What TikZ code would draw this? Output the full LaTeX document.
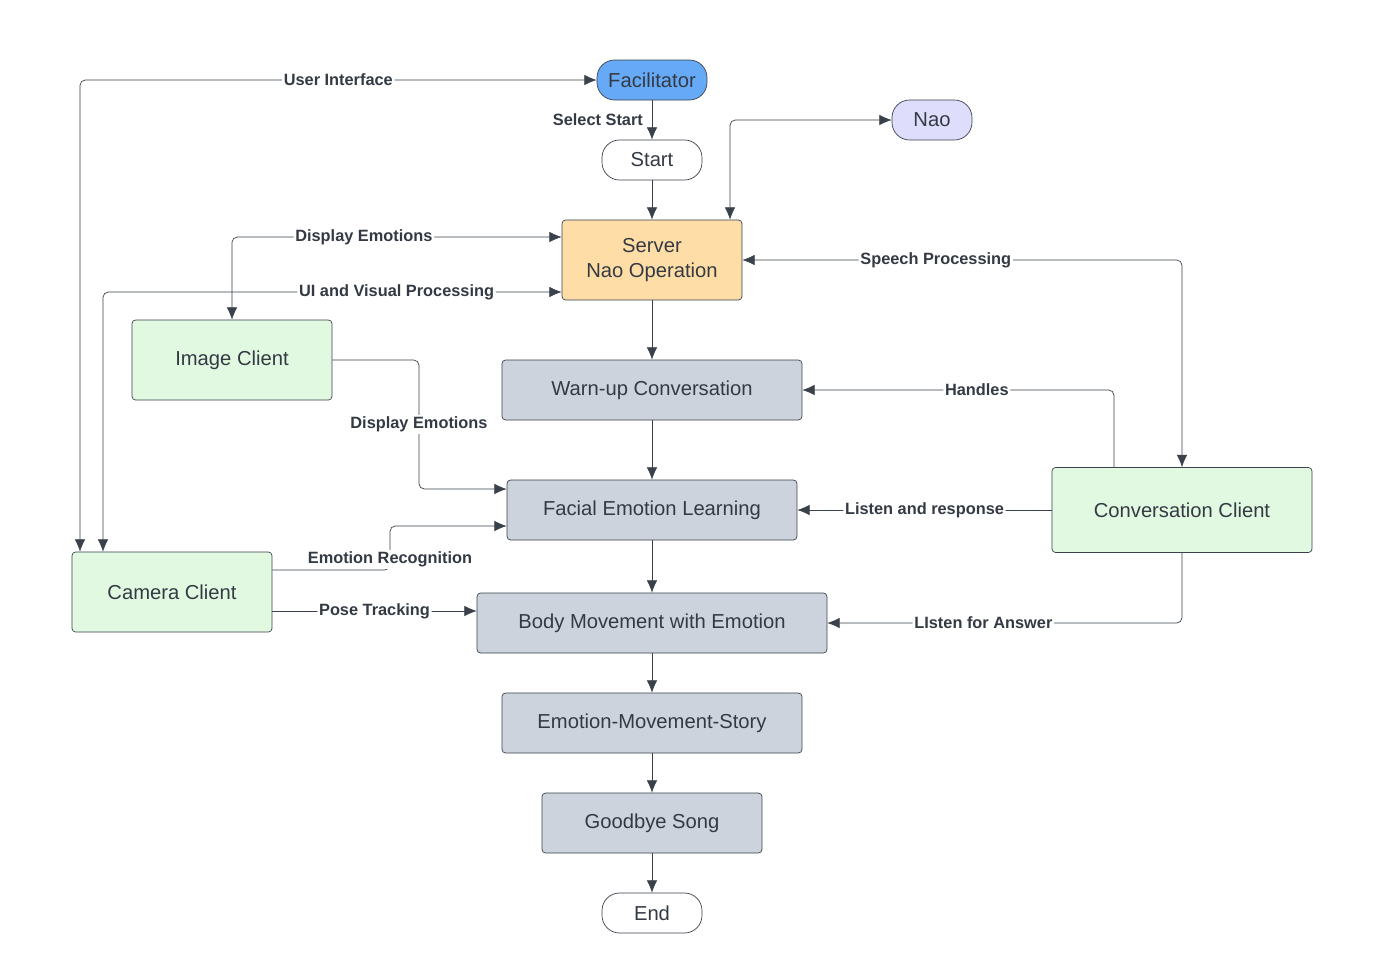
\documentclass[tikz,border=0pt]{standalone}
\usepackage{fontspec}
\setmainfont{Liberation Sans}
\usetikzlibrary{arrows.meta}
\definecolor{lineclr}{HTML}{3A414A}
\definecolor{facclr}{HTML}{66AAF7}
\definecolor{naoclr}{HTML}{DEDEFC}
\definecolor{srvclr}{HTML}{FFDDA6}
\definecolor{cliclr}{HTML}{E2F9E1}
\definecolor{stepclr}{HTML}{CDD3DC}
\tikzset{
  box/.style={draw=lineclr,rounded corners=2pt,align=center,text=lineclr!90!black,
    font=\fontsize{11.5}{14}\selectfont},
  pill/.style={draw=lineclr,rounded corners=10pt,minimum width=2cm,minimum height=0.8cm,
    text=lineclr!90!black,font=\fontsize{11.5}{14}\selectfont},
  lbl/.style={fill=white,inner sep=1pt,font=\bfseries\fontsize{9.3}{11}\selectfont,text=lineclr!90!black},
  flow/.style={draw=lineclr,-{Latex[length=7pt,width=6pt]},rounded corners=3pt},
  both/.style={draw=lineclr,{Latex[length=7pt,width=6pt]}-{Latex[length=7pt,width=6pt]},rounded corners=3pt}
}
\begin{document}
\begin{tikzpicture}[x=0.02cm,y=-0.02cm]
\useasboundingbox (0,0) rectangle (1374,971);
% terminals
\node[pill,fill=facclr,minimum width=2.2cm] (fac) at (652,80) {Facilitator};
\node[pill,fill=white] (start) at (652,160) {Start};
\node[pill,fill=naoclr,minimum width=1.6cm] (nao) at (932,120) {Nao};
\node[pill,fill=white] (end) at (652,913) {End};
% server and clients
\node[box,fill=srvclr,minimum width=3.6cm,minimum height=1.6cm] (srv) at (652,260) {Server\\Nao Operation};
\node[box,fill=cliclr,minimum width=4cm,minimum height=1.6cm] (img) at (232,360) {Image Client};
\node[box,fill=cliclr,minimum width=4cm,minimum height=1.6cm] (cam) at (172,592) {Camera Client};
\node[box,fill=cliclr,minimum width=5.2cm,minimum height=1.7cm] (conv) at (1182,510) {Conversation Client};
% steps
\node[box,fill=stepclr,minimum width=6cm,minimum height=1.2cm] (warm) at (652,390) {Warn-up Conversation};
\node[box,fill=stepclr,minimum width=5.8cm,minimum height=1.2cm] (fel) at (652,510) {Facial Emotion Learning};
\node[box,fill=stepclr,minimum width=7cm,minimum height=1.2cm] (body) at (652,623) {Body Movement with Emotion};
\node[box,fill=stepclr,minimum width=6cm,minimum height=1.2cm] (ems) at (652,723) {Emotion-Movement-Story};
\node[box,fill=stepclr,minimum width=4.4cm,minimum height=1.2cm] (bye) at (652,823) {Goodbye Song};
% main flow
\draw[flow] (fac) -- node[lbl,left=4pt] {Select Start} (start);
\draw[flow] (start) -- (srv);
\draw[flow] (srv) -- (warm);
\draw[flow] (warm) -- (fel);
\draw[flow] (fel) -- (body);
\draw[flow] (body) -- (ems);
\draw[flow] (ems) -- (bye);
\draw[flow] (bye) -- (end);
% server links
\draw[both] (cam.north -| 80,0) |- node[lbl,pos=0.75] {User Interface} (fac.west);
\draw[both] (srv.north -| 730,0) |- (nao.west);
\draw[both] (img.north) |- node[lbl,pos=0.7] {Display Emotions} (srv.west |- 0,237);
\draw[both] (cam.north -| 103,0) |- node[lbl,pos=0.82] {UI and Visual Processing} (srv.west |- 0,292);
\draw[both] (conv.north) |- node[lbl,pos=0.78] {Speech Processing} (srv.east);
% client links
\draw[flow] (img.east) -| (419,489) node[lbl,pos=0.75] {Display Emotions} -- (fel.west |- 0,489);
\draw[flow] (conv.north -| 1114,0) |- node[lbl,pos=0.72] {Handles} (warm.east);
\draw[flow] (conv.west) -- node[lbl] {Listen and response} (fel.east);
\draw[flow] (cam.east |- 0,570) -| (390,526) node[lbl,pos=0.62] {Emotion Recognition} -- (fel.west |- 0,526);
\draw[flow] (cam.east |- 0,611) -- node[lbl] {Pose Tracking} (body.west |- 0,611);
\draw[flow] (conv.south) |- node[lbl,pos=0.78] {LIsten for Answer} (body.east);
\end{tikzpicture}
\end{document}
